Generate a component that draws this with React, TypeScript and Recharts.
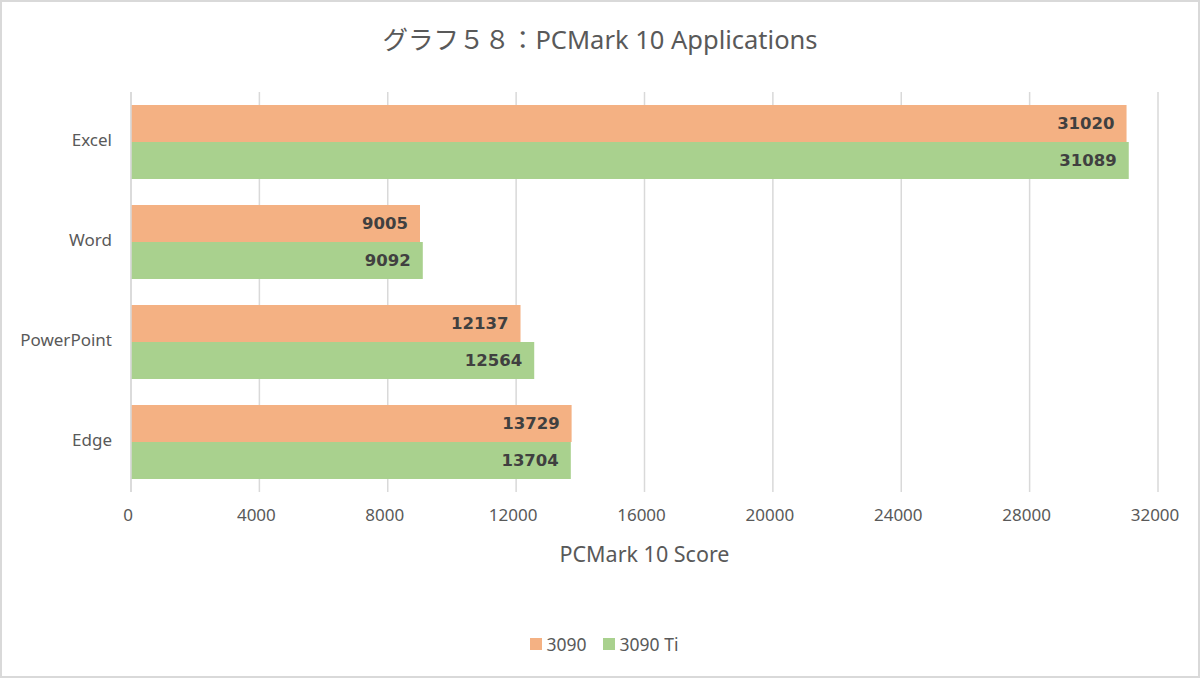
import { Bar, BarChart, CartesianGrid, Label, LabelList, Legend, XAxis, YAxis } from "recharts";

const apps = ["Excel", "Word", "PowerPoint", "Edge"];
const score3090 = [31020, 9005, 12137, 13729];
const score3090Ti = [31089, 9092, 12564, 13704];
const scoreTicks = [0, 4000, 8000, 12000, 16000, 20000, 24000, 28000, 32000];

const data = apps.map((name, i) => ({
  name,
  rtx3090: score3090[i],
  rtx3090Ti: score3090Ti[i],
}));

const TEXT = "#595959";
const FONT = "'Noto Sans', 'Noto Sans CJK JP', sans-serif";

function ScoreLegend(props: any) {
  const items = props.payload ?? [];
  return (
    <div style={{ display: "flex", justifyContent: "center", gap: 16, fontFamily: FONT }}>
      {items.map((it: any) => (
        <div key={it.value} style={{ display: "flex", alignItems: "center", color: TEXT, fontSize: 17.5 }}>
          <span style={{ width: 12, height: 12, background: it.color, marginRight: 5, display: "inline-block" }} />
          {it.value}
        </div>
      ))}
    </div>
  );
}

export default function App() {
  return (
    <div style={{ position: "absolute", left: 0, top: 0, width: 1200, height: 678, background: "#fff" }}>
      <div
        style={{
          position: "absolute",
          top: 19,
          left: 0,
          width: 1200,
          textAlign: "center",
          fontFamily: FONT,
          fontSize: 25.5,
          color: TEXT,
        }}
      >
        グラフ５８：PCMark 10 Applications
      </div>
      <BarChart
        width={1200}
        height={678}
        data={data}
        layout="vertical"
        margin={{ top: 92, right: 42, left: 0, bottom: 122 }}
        barCategoryGap="13%"
        barGap={0}
        style={{ fontFamily: FONT }}
      >
        <CartesianGrid horizontal={false} stroke="#d9d9d9" strokeWidth={1.5} />
        <XAxis
          type="number"
          domain={[0, 32000]}
          ticks={scoreTicks}
          axisLine={false}
          tickLine={false}
          tickSize={8}
          tickMargin={9}
          height={40}
          tick={{ fontSize: 17, fill: TEXT, dx: -3 }}
        >
          <Label value="PCMark 10 Score" position="bottom" offset={15} fill={TEXT} fontSize={21.5} />
        </XAxis>
        <YAxis
          type="category"
          dataKey="name"
          width={131}
          axisLine={{ stroke: "#d9d9d9", strokeWidth: 1.5 }}
          tickLine={false}
          tickSize={0}
          tickMargin={19}
          tick={{ fontSize: 17, fill: TEXT, dy: -2 }}
        />
        <Legend verticalAlign="bottom" content={<ScoreLegend />} wrapperStyle={{ left: 4, width: 1200, bottom: 22 }} />
        <Bar dataKey="rtx3090" name="3090" fill="#F4B183" isAnimationActive={false}>
          <LabelList
            dataKey="rtx3090"
            position="insideRight"
            offset={12}
            fill="#404040"
            fontWeight="bold"
            fontSize={16.5}
            fontFamily="'DejaVu Sans', sans-serif"
          />
        </Bar>
        <Bar dataKey="rtx3090Ti" name="3090 Ti" fill="#A9D18E" isAnimationActive={false}>
          <LabelList
            dataKey="rtx3090Ti"
            position="insideRight"
            offset={12}
            fill="#404040"
            fontWeight="bold"
            fontSize={16.5}
            fontFamily="'DejaVu Sans', sans-serif"
          />
        </Bar>
      </BarChart>
      <div
        style={{
          position: "absolute",
          inset: 0,
          border: "2px solid #d9d9d9",
          pointerEvents: "none",
        }}
      />
    </div>
  );
}
